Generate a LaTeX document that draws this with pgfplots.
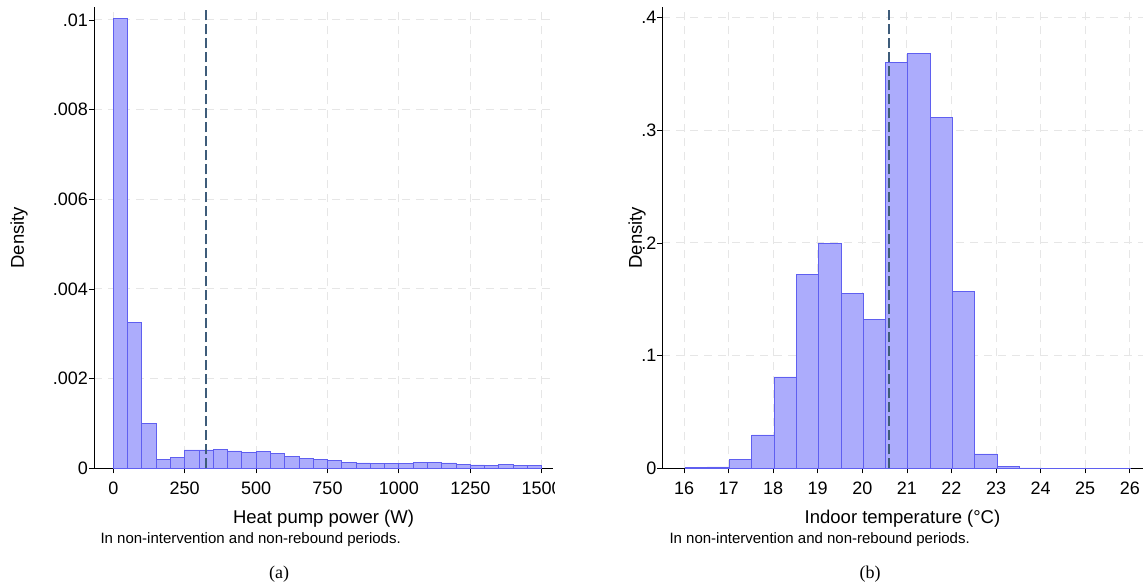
\documentclass[border=0pt]{standalone}
\usepackage{fontspec}
\setmainfont{Liberation Sans}
\newfontfamily\seriffont{Liberation Serif}
\usepackage{pgfplots}
\pgfplotsset{compat=1.18}

\definecolor{barfill}{RGB}{172,172,252}
\definecolor{baredge}{RGB}{95,95,240}
\definecolor{meanline}{RGB}{62,92,122}
\definecolor{gridc}{RGB}{230,230,230}

\pgfplotsset{
  histstyle/.style={
    scale only axis,
    axis x line*=bottom,
    axis y line*=left,
    axis line style={black, line width=0.9pt},
    tick align=outside,
    major tick length=5pt,
    tick style={black, line width=0.8pt},
    xmajorgrids, ymajorgrids,
    grid style={gridc, line width=1pt, dash pattern=on 8pt off 6pt},
    ticklabel style={font=\fontsize{18}{20}\selectfont},
    xticklabel style={yshift=-5pt},
    yticklabel style={xshift=2.5pt},
    label style={font=\fontsize{18.5}{21}\selectfont},
    scaled y ticks=false,
    scaled x ticks=false,
    xlabel style={at={(axis description cs:0.5,-0.11)}, anchor=center},
  }
}

\begin{document}
\begin{tikzpicture}[x=1pt,y=1pt]
\path[use as bounding box] (0,0) rectangle (1148,586);

\begin{scope}
\clip (0,0) rectangle (554,586);
\begin{axis}[histstyle,
  at={(94pt,117.7pt)}, anchor=south west,
  width=459pt, height=461.3pt,
  xmin=-67.6, xmax=1539.6, ymin=0, ymax=0.01029,
  xtick={0,250,500,750,1000,1250,1500},
  xticklabels={0,250,500,750,1000,1250,1500},
  ytick={0,0.002,0.004,0.006,0.008,0.01},
  yticklabels={0,.002,.004,.006,.008,.01},
  xlabel={Heat pump power (W)},
  ylabel={Density},
  ylabel style={at={(axis description cs:-0.1634,0.5)}, anchor=center},
]
\addplot[ybar interval, fill=barfill, draw=baredge, line width=0.8pt] coordinates {
(0,0.01004) (50,0.00325) (100,0.001004) (150,0.00020) (200,0.000245)
(250,0.000409) (300,0.000409) (350,0.000424) (400,0.000387) (450,0.000357)
(500,0.000379) (550,0.000335) (600,0.000268) (650,0.000223) (700,0.000200)
(750,0.000171) (800,0.000134) (850,0.000119) (900,0.000112) (950,0.000112)
(1000,0.000112) (1050,0.000134) (1100,0.000134) (1150,0.000119) (1200,0.0000892)
(1250,0.0000744) (1300,0.000067) (1350,0.0000818) (1400,0.000067) (1450,0.000067)
(1500,0)
};
\addplot[meanline, line width=2pt, dash pattern=on 10pt off 4pt] coordinates {(324.6,0) (324.6,0.01029)};
\end{axis}
\end{scope}

\begin{axis}[histstyle,
  at={(662.3pt,117.7pt)}, anchor=south west,
  width=480.4pt, height=461.3pt,
  xmin=15.513, xmax=26.29, ymin=0, ymax=0.4095,
  xtick={16,17,...,26},
  xticklabels={16,17,18,19,20,21,22,23,24,25,26},
  ytick={0,0.1,0.2,0.3,0.4},
  yticklabels={0,.1,.2,.3,.4},
  xlabel={Indoor temperature (°C)},
  ylabel={Density},
  ylabel style={at={(axis description cs:-0.0527,0.5)}, anchor=center},
]
\addplot[ybar interval, fill=barfill, draw=baredge, line width=0.8pt] coordinates {
(16.02,0.0006) (16.52,0.0012) (17.02,0.0080) (17.52,0.0296) (18.02,0.0811)
(18.52,0.1722) (19.02,0.1994) (19.52,0.1553) (20.02,0.1322) (20.52,0.3604)
(21.02,0.3683) (21.52,0.3118) (22.02,0.1571) (22.52,0.0127) (23.02,0.0018)
(23.52,0.0003) (24.02,0.0002) (24.52,0.0002) (25.02,0.0002) (25.52,0.0002)
(26.02,0)
};
\addplot[meanline, line width=2pt, dash pattern=on 10pt off 4pt] coordinates {(20.59,0) (20.59,0.4095)};
\end{axis}

\node[anchor=west, font=\fontsize{15}{18}\selectfont] at (97,46) {In non-intervention and non-rebound periods.};
\node[anchor=west, font=\fontsize{15}{18}\selectfont] at (666,46) {In non-intervention and non-rebound periods.};
\node[font=\seriffont\fontsize{18}{21}\selectfont] at (279,12) {(a)};
\node[font=\seriffont\fontsize{18}{21}\selectfont] at (870,12) {(b)};
\end{tikzpicture}
\end{document}
